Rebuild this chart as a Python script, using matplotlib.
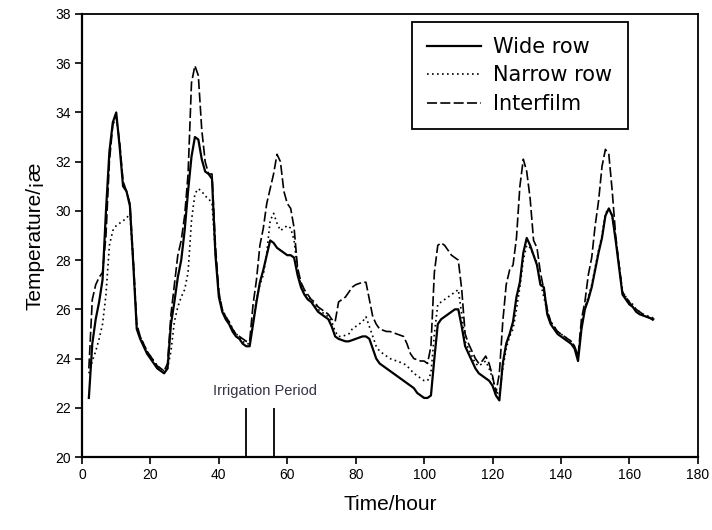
import numpy as np
import matplotlib
matplotlib.use("Agg")
import matplotlib.pyplot as plt

# hourly soil temperature readings, hours 2..167
hours = list(range(2, 168))

wide_row = [
    22.4, 24.6, 25.6, 26.3, 27.2, 30.0, 32.4, 33.6, 34.0, 32.6,
    31.0, 30.8, 30.2, 27.8, 25.2, 24.8, 24.5, 24.2, 24.0, 23.8,
    23.6, 23.5, 23.4, 23.6, 25.4, 26.3, 27.3, 28.0, 29.2, 30.8,
    32.2, 33.0, 32.9, 32.1, 31.6, 31.5, 31.3, 28.2, 26.5, 25.9,
    25.6, 25.4, 25.1, 24.9, 24.8, 24.6, 24.5, 24.5, 25.4, 26.3,
    27.1, 27.6, 28.2, 28.8, 28.7, 28.5, 28.4, 28.3, 28.2, 28.2,
    28.1, 27.4, 26.9, 26.6, 26.4, 26.3, 26.1, 25.9, 25.8, 25.7,
    25.6, 25.3, 24.9, 24.8, 24.75, 24.7, 24.7, 24.75, 24.8, 24.85,
    24.9, 24.9, 24.8, 24.4, 24.0, 23.8, 23.7, 23.6, 23.5, 23.4,
    23.3, 23.2, 23.1, 23.0, 22.9, 22.8, 22.6, 22.5, 22.4, 22.4,
    22.5, 24.0, 25.4, 25.6, 25.7, 25.8, 25.9, 26.0, 26.0, 25.3,
    24.5, 24.2, 23.9, 23.6, 23.4, 23.3, 23.2, 23.1, 22.9, 22.5,
    22.3, 23.8, 24.6, 25.0, 25.5, 26.5, 27.1, 28.3, 28.9, 28.6,
    28.2, 27.8, 27.0, 26.9, 25.8, 25.4, 25.2, 25.0, 24.9, 24.8,
    24.7, 24.6, 24.4, 23.9, 25.2, 26.0, 26.4, 26.9, 27.6, 28.3,
    28.9, 29.8, 30.1, 29.8, 28.8, 27.7, 26.6, 26.4, 26.2, 26.1,
    25.9, 25.8, 25.75, 25.7, 25.65, 25.6,
]

narrow_row = [
    23.4, 23.9, 24.3, 24.8, 25.4, 26.6, 28.6, 29.2, 29.4, 29.5,
    29.6, 29.7, 29.9, 27.8, 25.3, 24.9, 24.6, 24.3, 24.1, 23.9,
    23.7, 23.6, 23.5, 23.6, 24.3, 25.5, 26.1, 26.5, 26.8, 27.5,
    29.6, 30.7, 30.9, 30.8, 30.6, 30.5, 30.3, 28.3, 26.7, 26.0,
    25.7, 25.5, 25.2, 25.0, 24.9, 24.7, 24.6, 24.6, 25.5, 26.4,
    27.0, 27.4, 28.3, 29.6, 29.9, 29.5, 29.2, 29.3, 29.4, 29.3,
    28.8, 27.6, 27.0, 26.7, 26.5, 26.4, 26.2, 26.0, 25.9, 25.8,
    25.7, 25.5, 25.1, 24.9, 24.9, 24.95, 25.0, 25.2, 25.3, 25.4,
    25.5, 25.7, 25.3, 24.9, 24.5, 24.3, 24.2, 24.1, 24.0, 23.95,
    23.9, 23.85, 23.8, 23.7, 23.55, 23.4, 23.3, 23.2, 23.1, 23.1,
    23.4, 25.0, 26.2, 26.3, 26.4, 26.5, 26.6, 26.7, 26.8, 25.8,
    24.7, 24.4, 24.1, 23.8, 23.7, 23.8, 23.9, 23.6, 23.2, 22.7,
    22.5, 23.6, 24.4, 24.9, 25.2, 26.0, 26.9, 28.0, 28.6, 28.5,
    28.2, 27.9, 27.1, 26.5, 25.9, 25.5, 25.3, 25.1, 25.0, 24.9,
    24.8, 24.7, 24.5, 24.0, 25.3, 26.1, 26.5, 27.0, 27.7, 28.4,
    29.0, 29.9, 30.1, 29.8, 28.9, 27.8, 26.7, 26.5, 26.3, 26.2,
    26.0, 25.9, 25.8, 25.75, 25.7, 25.65,
]

interfilm = [
    23.6, 26.4, 27.0, 27.3, 27.5, 29.0, 32.0, 33.5, 33.8, 32.8,
    31.2, 30.8, 30.3, 28.0, 25.4, 24.9, 24.6, 24.3, 24.1, 23.9,
    23.7, 23.6, 23.5, 23.8, 25.8, 27.0, 28.2, 28.8, 29.8, 31.5,
    35.2, 35.9, 35.5, 33.3, 32.0, 31.5, 31.5, 28.6, 26.7, 26.0,
    25.7, 25.5, 25.2, 25.0, 24.9, 24.8, 24.7, 24.7, 26.2, 27.2,
    28.6, 29.3, 30.3, 30.9, 31.5, 32.3, 32.0, 30.8, 30.3, 30.1,
    29.3, 27.7, 27.1, 26.8, 26.6, 26.4, 26.3, 26.1, 26.0, 25.9,
    25.8, 25.6, 25.5, 26.3, 26.4, 26.5, 26.7, 26.9, 27.0, 27.05,
    27.1, 27.1, 26.4, 25.7, 25.4, 25.2, 25.15, 25.1, 25.1, 25.05,
    25.0, 24.95, 24.9, 24.6, 24.2, 24.0, 23.95, 23.9, 23.9, 23.8,
    24.5, 27.5, 28.6, 28.7, 28.6, 28.4, 28.2, 28.1, 28.0, 26.8,
    25.0, 24.6, 24.3, 24.0, 23.8, 23.9, 24.1, 23.8, 23.3, 22.6,
    23.4, 25.5, 27.0, 27.6, 27.8, 28.9, 31.0, 32.1, 31.6, 30.5,
    28.8, 28.5, 27.5, 26.8, 26.0, 25.5, 25.3, 25.1, 25.0, 24.9,
    24.8, 24.7, 24.5, 24.1, 25.6, 26.3, 27.4, 28.1, 29.4, 30.4,
    31.8, 32.5, 32.3, 30.8, 29.0, 27.8, 26.7, 26.5, 26.3, 26.1,
    26.0, 25.9, 25.8, 25.7, 25.65, 25.55,
]

series_names = ["Wide row", "Narrow row", "Interfilm"]

# start and end of the irrigation, hours
irrigation_hours = [48, 56]

xticks = list(range(0, 181, 20))
yticks = list(range(20, 39, 2))

plt.rcParams["font.family"] = ["Liberation Sans", "DejaVu Sans"]

fig = plt.figure(figsize=(7.12, 5.30), dpi=100)
ax = fig.add_axes([0.1152, 0.1377, 0.8648, 0.8359])

ax.plot(hours, wide_row, color="black", lw=1.6, ls="-", label=series_names[0])
ax.plot(hours, narrow_row, color="black", lw=1.2, ls=(0, (1, 2)), label=series_names[1])
ax.plot(hours, interfilm, color="black", lw=1.2, ls=(0, (6, 2)), label=series_names[2])

# markers for the irrigation window
ax.vlines(irrigation_hours, 20, 22, color="black", lw=1.3)
ax.text(53.5, 22.4, "Irrigation Period", ha="center",
        va="bottom", fontsize=10.5, color="#333344")

ax.set_xlim(0, 180)
ax.set_ylim(20, 38)
ax.set_xticks(xticks)
ax.set_yticks(yticks)
ax.tick_params(direction="out", length=5, width=1.2, labelsize=10, pad=3)

for side in ["left", "bottom"]:
    ax.spines[side].set_linewidth(1.6)
for side in ["top", "right"]:
    ax.spines[side].set_linewidth(1.3)

ax.set_xlabel("Time/hour", fontsize=15, labelpad=9)
ax.set_ylabel("Temperature/¡æ", fontsize=15, labelpad=8)

leg = ax.legend(loc="upper right", bbox_to_anchor=(0.886, 0.983),
                prop={"family": "DejaVu Sans", "size": 15},
                handlelength=2.6, fancybox=False, framealpha=1,
                edgecolor="black", borderpad=0.75, labelspacing=0.4,
                handletextpad=0.55, borderaxespad=0)
leg.get_frame().set_linewidth(1.3)

fig.savefig("out.png", dpi=100)
